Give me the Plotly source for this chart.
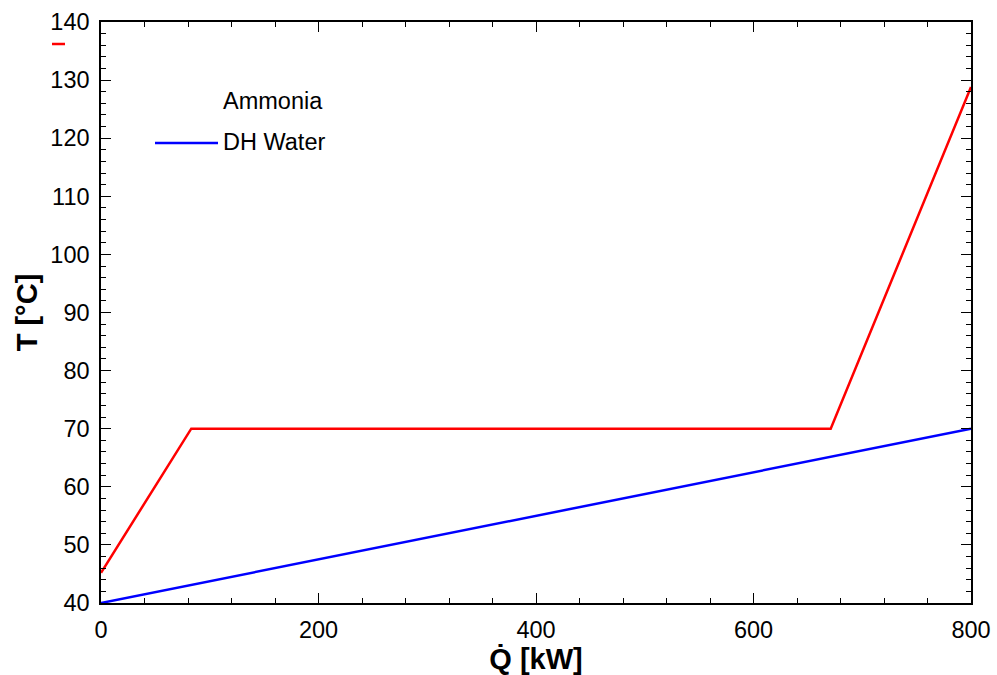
import plotly.graph_objects as go

# Data
ammonia_q = [0, 83, 671, 800]
ammonia_t = [45.2, 70, 70, 128.8]
water_q = [0, 800]
water_t = [40, 70]

x_ticks = [0, 200, 400, 600, 800]
y_ticks = [40, 50, 60, 70, 80, 90, 100, 110, 120, 130, 140]

FONT = "Liberation Sans, Arial, sans-serif"

fig = go.Figure()
fig.add_trace(go.Scatter(x=ammonia_q, y=ammonia_t, mode="lines", name="Ammonia",
                         line=dict(color="#ff0000", width=2.5), showlegend=False))
fig.add_trace(go.Scatter(x=water_q, y=water_t, mode="lines", name="DH Water",
                         line=dict(color="#0000ff", width=2.5), showlegend=False))

axis_common = dict(
    showgrid=False, zeroline=False, showline=True, linecolor="black", linewidth=1.5,
    mirror="allticks", ticks="inside", ticklen=10, tickwidth=1.2, tickcolor="black",
    tickfont=dict(family=FONT, size=23.5, color="black"), automargin=False,
)

fig.update_xaxes(range=[0, 800], tickvals=x_ticks, ticktext=[str(v) for v in x_ticks],
                 minor=dict(dtick=40, tick0=0, ticks="inside", ticklen=5, tickwidth=1.2, tickcolor="black"),
                 title=dict(text="<b>Q̇ [kW]</b>", font=dict(family=FONT, size=29, color="black"), standoff=3),
                 ticklabelstandoff=5,
                 **axis_common)
fig.update_yaxes(range=[40, 140], tickvals=y_ticks, ticktext=[str(v) for v in y_ticks],
                 minor=dict(dtick=2, tick0=40, ticks="inside", ticklen=5, tickwidth=1.2, tickcolor="black"),
                 title=dict(text="<b>T [°C]</b>", font=dict(family=FONT, size=29, color="black"), standoff=4),
                 ticklabelstandoff=5,
                 **axis_common)

# Legend (drawn manually to mimic original)
fig.add_annotation(xref="paper", yref="paper", x=(221 - 101) / 870, y=(603 - 101) / 581,
                   text="Ammonia", showarrow=False, xanchor="left", yanchor="middle",
                   font=dict(family=FONT, size=23.5, color="black"))
fig.add_annotation(xref="paper", yref="paper", x=(221 - 101) / 870, y=(603 - 142) / 581,
                   text="DH Water", showarrow=False, xanchor="left", yanchor="middle",
                   font=dict(family=FONT, size=23.5, color="black"))
fig.add_shape(type="line", xref="paper", yref="paper",
              x0=(155 - 101) / 870, x1=(218 - 101) / 870,
              y0=(603 - 143) / 581, y1=(603 - 143) / 581,
              line=dict(color="#0000ff", width=2.5))
fig.add_shape(type="line", xref="paper", yref="paper",
              x0=(52 - 101) / 870, x1=(65 - 101) / 870,
              y0=(603 - 44) / 581, y1=(603 - 44) / 581,
              line=dict(color="#ff0000", width=2.5))

fig.update_layout(width=997, height=675, margin=dict(l=101, r=26, t=22, b=72),
                  plot_bgcolor="white", paper_bgcolor="white",
                  font=dict(family=FONT, color="black"))

fig.write_html("out.html")
